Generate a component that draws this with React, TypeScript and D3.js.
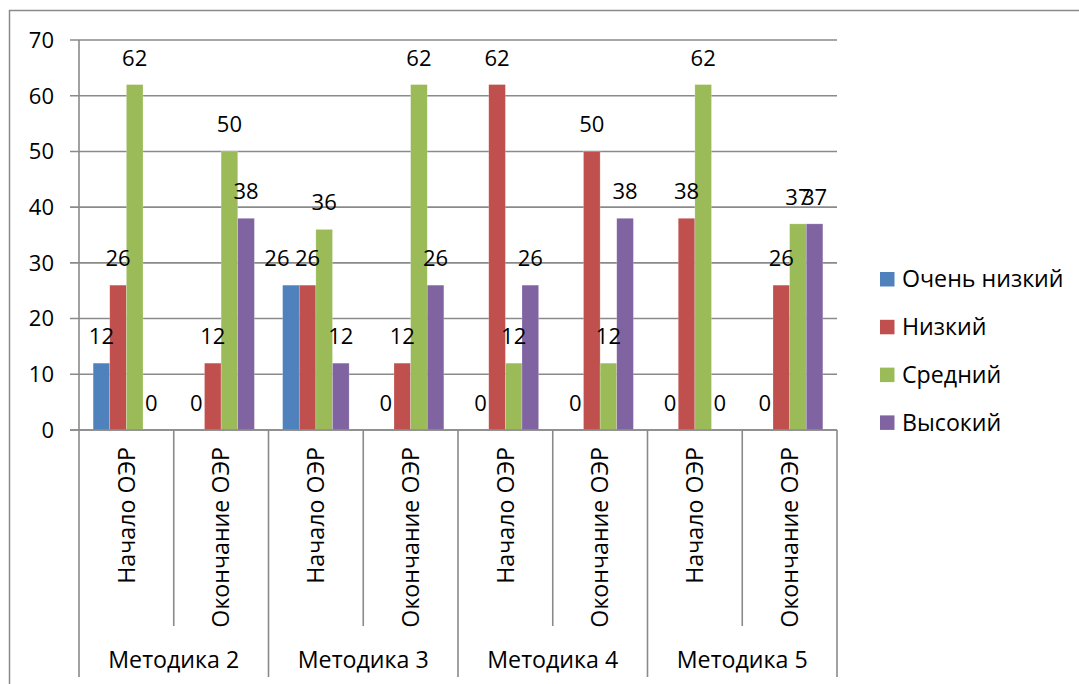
import React from "react";
import * as d3 from "d3";

const series = ["Очень низкий", "Низкий", "Средний", "Высокий"];
const colors = ["#4F81BD", "#C0504D", "#9BBB59", "#8064A2"];
const methods = ["Методика 2", "Методика 3", "Методика 4", "Методика 5"];
const stages = ["Начало ОЭР", "Окончание ОЭР"];

// values per category (method × stage), one entry per series
const veryLow = [12, 0, 26, 0, 0, 0, 0, 0];
const low = [26, 12, 26, 12, 62, 50, 38, 26];
const medium = [62, 50, 36, 62, 12, 12, 62, 37];
const high = [0, 38, 12, 26, 26, 38, 0, 37];
const seriesValues = [veryLow, low, medium, high];
const yTicks = [0, 10, 20, 30, 40, 50, 60, 70];

const W = 1079;
const H = 684;
const FONT = "'Open Sans', 'Noto Sans', sans-serif";
const GRID = "#8a8a8a";
const NUM_SIZE = 22;
const WORD_SIZE = 23.2;

// manual nudge for a data label that would collide with its neighbour
const labelNudge: Record<string, number> = { "2-0": -14 };

export default function App() {
  const categories = d3.range(methods.length * stages.length);
  const x = d3.scaleBand<number>().domain(categories).range([79, 837]).padding(0);
  const inner = d3
    .scaleBand<number>()
    .domain(d3.range(series.length))
    .range([0, x.bandwidth()])
    .paddingInner(0)
    .paddingOuter(0.85);
  const y = d3.scaleLinear().domain([0, 70]).range([430, 40]);

  const axisTop = 430;
  const stageBottom = 626;
  const groupBottom = 677;

  return (
    <div style={{ position: "fixed", left: 0, top: 0, width: W, height: H, background: "#fff" }}>
      <svg width={W} height={H} style={{ display: "block", fontFamily: FONT }}>
        <rect x={0} y={0} width={W} height={H} fill="#fff" />
        {/* outer chart frame */}
        <rect x={9.5} y={10.5} width={1200} height={800} fill="none" stroke={GRID} strokeWidth={1.5} />

        {/* horizontal gridlines and y labels */}
        {yTicks.map((t) => (
          <g key={t}>
            <line x1={70} x2={837} y1={y(t)} y2={y(t)} stroke={GRID} strokeWidth={1.6} />
            <text x={54} y={y(t)} dy="0.36em" textAnchor="end" fontSize={NUM_SIZE} fill="#000">
              {t}
            </text>
          </g>
        ))}
        <line x1={79} x2={79} y1={y(70)} y2={axisTop} stroke={GRID} strokeWidth={1.6} />

        {/* bars */}
        {categories.map((c) =>
          seriesValues.map((vals, si) => {
            const v = vals[c];
            const bx = (x(c) ?? 0) + (inner(si) ?? 0);
            return v > 0 ? (
              <rect
                key={`b${c}-${si}`}
                x={bx}
                y={y(v)}
                width={inner.bandwidth()}
                height={y(0) - y(v)}
                fill={colors[si]}
                stroke="#ffffff"
                strokeOpacity={0.35}
                strokeWidth={0.6}
              />
            ) : null;
          })
        )}

        {/* data labels */}
        {categories.map((c) =>
          seriesValues.map((vals, si) => {
            const v = vals[c];
            const cx =
              (x(c) ?? 0) + (inner(si) ?? 0) + inner.bandwidth() / 2 + (labelNudge[`${c}-${si}`] ?? 0);
            return (
              <text key={`l${c}-${si}`} x={cx} y={y(v) - 19} textAnchor="middle" fontSize={NUM_SIZE} fill="#000">
                {v}
              </text>
            );
          })
        )}

        {/* category axis */}
        <line x1={70} x2={837} y1={axisTop} y2={axisTop} stroke={GRID} strokeWidth={1.6} />
        {d3.range(categories.length + 1).map((k) => {
          const px = 79 + k * x.step();
          const isGroup = k % stages.length === 0;
          return (
            <line
              key={`t${k}`}
              x1={px}
              x2={px}
              y1={axisTop}
              y2={isGroup ? groupBottom : stageBottom}
              stroke={GRID}
              strokeWidth={1.6}
            />
          );
        })}
        {categories.map((c) => (
          <text
            key={`s${c}`}
            transform={`translate(${(x(c) ?? 0) + x.bandwidth() / 2},447) rotate(-90)`}
            dy="0.36em"
            textAnchor="end"
            fontSize={WORD_SIZE}
            fill="#000"
          >
            {stages[c % stages.length]}
          </text>
        ))}
        {methods.map((m, i) => (
          <text
            key={m}
            x={79 + (i * 2 + 1) * x.step()}
            y={668}
            textAnchor="middle"
            fontSize={WORD_SIZE}
            fill="#000"
          >
            {m}
          </text>
        ))}

        {/* legend */}
        {series.map((s, i) => {
          const cy = 279 + i * 47.8;
          return (
            <g key={s}>
              <rect x={880} y={cy - 7} width={14.5} height={14.5} fill={colors[i]} />
              <text x={902} y={cy} dy="0.36em" fontSize={WORD_SIZE} fill="#000">
                {s}
              </text>
            </g>
          );
        })}
      </svg>
    </div>
  );
}
